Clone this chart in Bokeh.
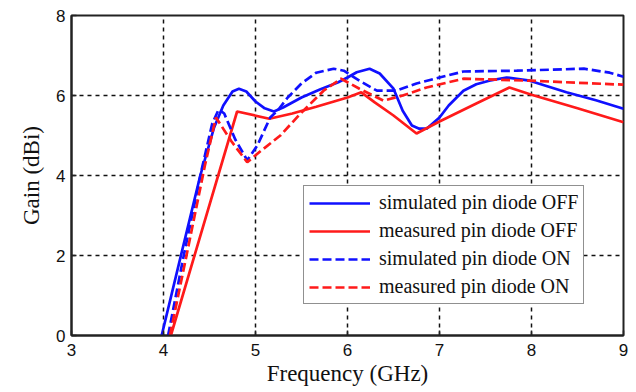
from bokeh.plotting import figure
from bokeh.models import Legend, LegendItem, FixedTicker, Range1d
from bokeh.embed import file_html
from bokeh.resources import INLINE

# ---- data ----
freq_sim_off = [3.98, 4.2, 4.4, 4.55, 4.65, 4.75, 4.82, 4.9, 5.0, 5.1, 5.2, 5.3, 5.5, 5.7, 5.9, 6.0, 6.1,
                6.24, 6.35, 6.5, 6.6, 6.7, 6.78, 6.86, 7.0, 7.1, 7.26, 7.4, 7.54, 7.73, 7.98, 8.38, 8.7, 9.0]
gain_sim_off = [0.0, 2.1, 4.0, 5.2, 5.75, 6.1, 6.17, 6.1, 5.85, 5.68, 5.6, 5.7, 5.95, 6.15, 6.33, 6.45, 6.58,
                6.67, 6.55, 6.17, 5.62, 5.25, 5.17, 5.17, 5.45, 5.75, 6.12, 6.28, 6.37, 6.45, 6.37, 6.08, 5.88, 5.67]

freq_meas_off = [4.08, 4.8, 5.15, 5.4, 5.66, 6.0, 6.15, 6.3, 6.5, 6.75, 7.0, 7.4, 7.76, 8.0, 8.5, 9.0]
gain_meas_off = [0.0, 5.6, 5.42, 5.55, 5.72, 5.95, 6.08, 5.82, 5.5, 5.05, 5.35, 5.8, 6.2, 6.02, 5.68, 5.33]

freq_sim_on = [4.05, 4.22, 4.42, 4.53, 4.6, 4.66, 4.78, 4.91, 5.02, 5.16, 5.24, 5.35, 5.5, 5.66, 5.85, 5.96,
               6.13, 6.32, 6.53, 6.75, 7.0, 7.26, 7.84, 8.57, 8.85, 9.0]
gain_sim_on = [0.0, 2.0, 4.2, 5.3, 5.65, 5.55, 4.9, 4.38, 4.75, 5.45, 5.62, 5.95, 6.3, 6.57, 6.67, 6.62,
               6.37, 6.12, 6.12, 6.3, 6.45, 6.6, 6.62, 6.67, 6.57, 6.47]

freq_meas_on = [4.07, 4.25, 4.45, 4.57, 4.74, 4.91, 5.05, 5.27, 5.49, 5.74, 5.93, 6.13, 6.39, 6.6, 6.86,
                7.26, 7.98, 9.0]
gain_meas_on = [0.0, 2.0, 4.25, 5.45, 4.85, 4.33, 4.6, 5.0, 5.55, 6.12, 6.42, 6.17, 5.87, 6.0, 6.2,
                6.42, 6.37, 6.27]

x_ticks = [3, 4, 5, 6, 7, 8, 9]
y_ticks = [0, 2, 4, 6, 8]
legend_labels = ["simulated pin diode OFF", "measured pin diode OFF",
                 "simulated pin diode ON", "measured pin diode ON"]
x_title = "Frequency (GHz)"
y_title = "Gain (dBi)"

BLUE = "#1010ff"
RED = "#ff1a1a"

p = figure(width=636, height=392, output_backend="svg", toolbar_location=None,
           x_range=Range1d(3, 9), y_range=Range1d(0, 8),
           min_border_left=71, min_border_right=13, min_border_top=15, min_border_bottom=57)
p.background_fill_color = "white"
p.border_fill_color = "white"
p.outline_line_color = "#222222"
p.outline_line_width = 2

for ax in (p.xaxis[0], p.yaxis[0]):
    ax.axis_line_color = "#222222"
    ax.axis_line_width = 2
    ax.major_tick_in = 5
    ax.major_tick_out = 0
    ax.minor_tick_line_color = None
    ax.major_tick_line_color = "#222222"
    ax.major_tick_line_width = 1.5
    ax.major_label_text_font = "Liberation Sans"
    ax.major_label_text_font_size = "17px"
    ax.major_label_text_color = "#111111"
    ax.axis_label_text_font = "Liberation Serif"
    ax.axis_label_text_font_size = "23px"
    ax.axis_label_text_font_style = "normal"
    ax.axis_label_text_color = "#111111"

p.xaxis.ticker = FixedTicker(ticks=x_ticks)
p.yaxis.ticker = FixedTicker(ticks=y_ticks)
p.xaxis.major_label_standoff = 8
p.yaxis.major_label_standoff = 6

p.yaxis.axis_label = y_title
p.yaxis.axis_label_standoff = 9
p.xaxis.axis_label = x_title
p.xaxis.axis_label_standoff = 2

p.xgrid.ticker = FixedTicker(ticks=x_ticks)
p.ygrid.ticker = FixedTicker(ticks=y_ticks)
for g in (p.xgrid[0], p.ygrid[0]):
    g.grid_line_color = "#111111"
    g.grid_line_width = 1.5
    g.grid_line_dash = "4 4"

r1 = p.line(freq_sim_off, gain_sim_off, line_color=BLUE, line_width=2.7)
r2 = p.line(freq_meas_off, gain_meas_off, line_color=RED, line_width=2.7)
r3 = p.line(freq_sim_on, gain_sim_on, line_color=BLUE, line_width=2.7, line_dash="9 4")
r4 = p.line(freq_meas_on, gain_meas_on, line_color=RED, line_width=2.7, line_dash="9 4")

legend = Legend(items=[LegendItem(label=legend_labels[0], renderers=[r1]),
                       LegendItem(label=legend_labels[1], renderers=[r2]),
                       LegendItem(label=legend_labels[2], renderers=[r3]),
                       LegendItem(label=legend_labels[3], renderers=[r4])],
                location=(232, 31))
legend.label_text_font = "Liberation Serif"
legend.label_text_font_size = "20px"
legend.label_text_color = "#111111"
legend.label_height = 22
legend.glyph_height = 22
legend.glyph_width = 61
legend.label_standoff = 9
legend.spacing = 5
legend.padding = 5
legend.margin = 0
legend.border_line_color = "#222222"
legend.border_line_width = 1.5
legend.background_fill_color = "white"
legend.background_fill_alpha = 1.0
p.add_layout(legend, "center")

open("out.html", "w").write(file_html(p, INLINE))
